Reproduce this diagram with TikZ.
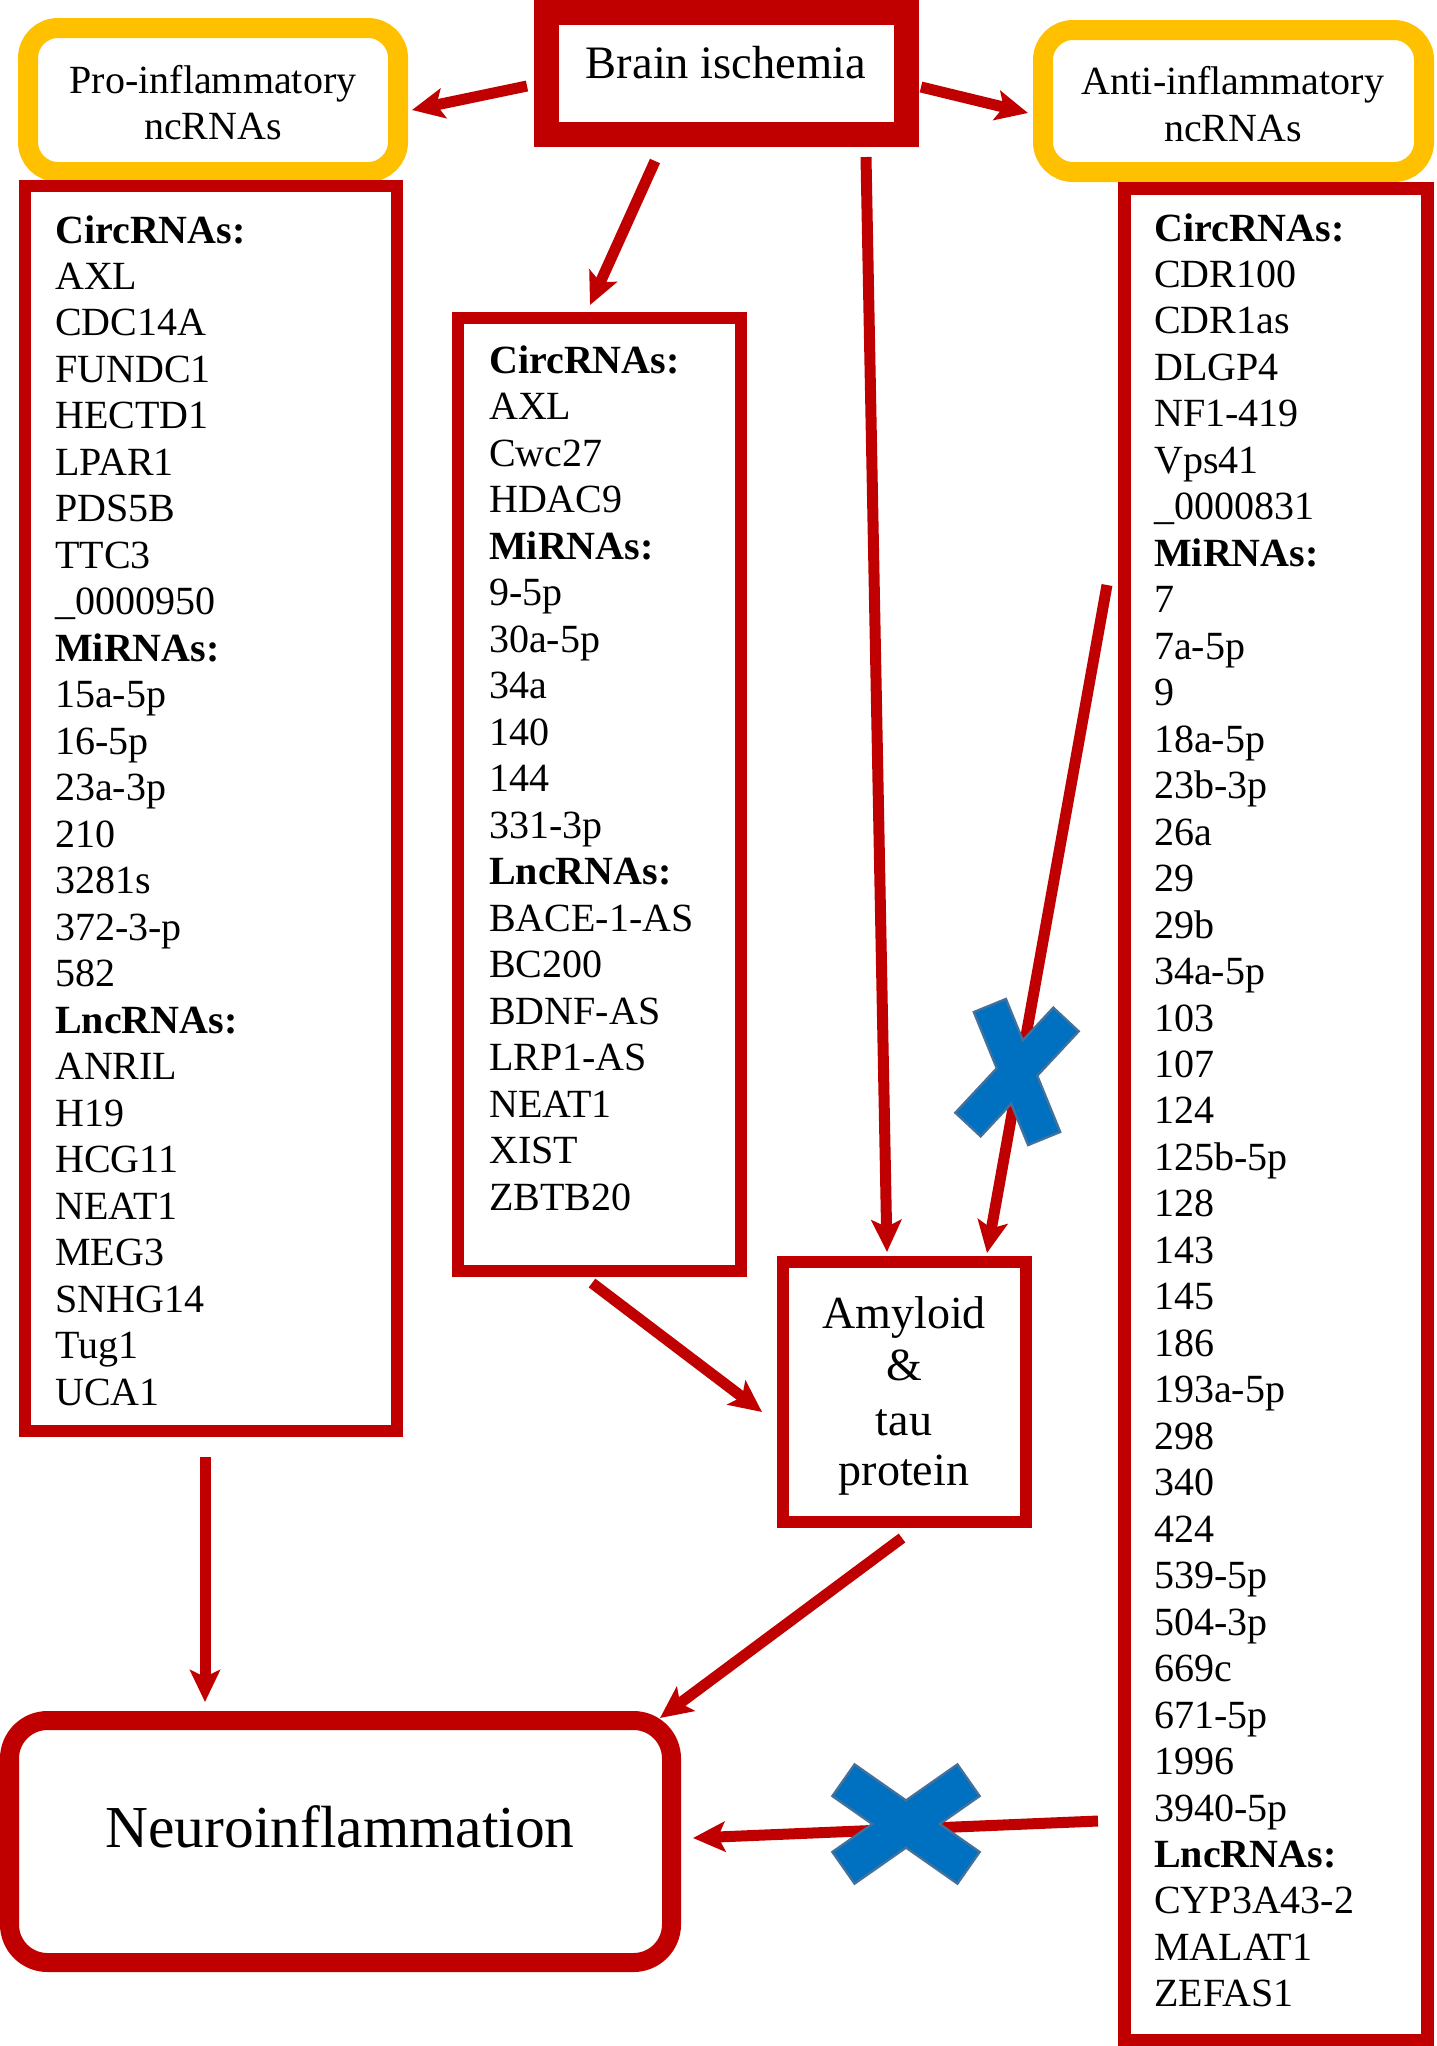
\documentclass[tikz,border=0pt]{standalone}
\usepackage{fontspec}
\setmainfont{Liberation Serif}
\usetikzlibrary{arrows.meta,calc}
\definecolor{dred}{HTML}{C00000}
\definecolor{gold}{HTML}{FFC000}
\definecolor{xblue}{HTML}{0070C0}
\definecolor{xedge}{HTML}{41719C}
\newcommand{\bluecross}[6]{%
  \begin{scope}[shift={(#1,#2)}]
    \draw[xstroke, rotate=#3] (-#5,-#6) rectangle (#5,#6);
    \draw[xstroke, rotate=#4] (-#5,-#6) rectangle (#5,#6);
    \fill[xfill, rotate=#3] (-#5,-#6) rectangle (#5,#6);
    \fill[xfill, rotate=#4] (-#5,-#6) rectangle (#5,#6);
  \end{scope}}
\begin{document}
\begin{tikzpicture}[x=1pt,y=-1pt,
  framebox/.style={draw=dred, inner sep=0pt, outer sep=0pt},
  listbox/.style={framebox, line width=12pt},
  goldbox/.style={draw=gold, line width=20pt, rounded corners=30pt, inner sep=0pt, outer sep=0pt},
  arr/.style={draw=dred, line width=11pt, -{Stealth[length=32pt,width=30pt,inset=7pt]}},
  item/.style={inner sep=0pt, anchor=base west, font=\fontsize{40}{46.5}\selectfont},
  ctext/.style={inner sep=0pt, anchor=base, font=\fontsize{40}{46.5}\selectfont},
  xstroke/.style={draw=xedge, fill=xblue, line width=5pt, line join=miter},
  xfill/.style={fill=xblue}]
\useasboundingbox (0,0) rectangle (1437,2046);
\fill[white] (0,0) rectangle (1437,2046);

% frames
\node[framebox, line width=25pt, minimum width=360pt, minimum height=122pt] (brain) at (726.5,73.5) {};
\node[goldbox, minimum width=370pt, minimum height=144pt] (pro) at (213,100) {};
\node[goldbox, minimum width=381pt, minimum height=142pt] (anti) at (1233.5,101) {};
\node[listbox, minimum width=372pt, minimum height=1245pt] (plbox) at (211,808.5) {};
\node[listbox, minimum width=283pt, minimum height=953pt] (mlbox) at (599.5,794.5) {};
\node[listbox, line width=13pt, minimum width=303pt, minimum height=1852pt] (rlbox) at (1275.5,1114) {};
\node[listbox, minimum width=243pt, minimum height=260pt] (amy) at (904.5,1392) {};
\node[framebox, line width=19pt, rounded corners=38pt, minimum width=662pt, minimum height=242pt] (neuro) at (340.5,1841.5) {};

% titles
\node[ctext, font=\fontsize{46.5}{50}\selectfont] (brainT) at (726,78) {Brain ischemia};
\node[ctext] (proT1) at (213,93) {Pro-inflammatory};
\node[ctext] (proT2) at (213,139) {ncRNAs};
\node[ctext] (antiT1) at (1233,94) {Anti-inflammatory};
\node[ctext] (antiT2) at (1233,141) {ncRNAs};
\node[ctext, font=\fontsize{46}{50}\selectfont] (amyT1) at (904,1328) {Amyloid};
\node[ctext, font=\fontsize{46}{50}\selectfont] (amyT2) at (904,1380) {\&};
\node[ctext, font=\fontsize{46}{50}\selectfont] (amyT3) at (904,1435) {tau};
\node[ctext, font=\fontsize{46}{50}\selectfont] (amyT4) at (904,1485) {protein};
\node[ctext, font=\fontsize{59.5}{64}\selectfont] (neuroT) at (340,1847) {Neuroinflammation};

% lists
\foreach \t [count=\i from 0] in {\textbf{CircRNAs:},AXL,CDC14A,FUNDC1,HECTD1,LPAR1,PDS5B,TTC3,\_0000950,\textbf{MiRNAs:},15a-5p,16-5p,23a-3p,210,3281s,372-3-p,582,\textbf{LncRNAs:},ANRIL,H19,HCG11,NEAT1,MEG3,SNHG14,Tug1,UCA1}
  \node[item] (pl\i) at (55,243+46.48*\i) {\t};
\foreach \t [count=\i from 0] in {\textbf{CircRNAs:},AXL,Cwc27,HDAC9,\textbf{MiRNAs:},9-5p,30a-5p,34a,140,144,331-3p,\textbf{LncRNAs:},BACE-1-AS,BC200,BDNF-AS,LRP1-AS,NEAT1,XIST,ZBTB20}
  \node[item] (ml\i) at (489,373+46.5*\i) {\t};
\foreach \t [count=\i from 0] in {\textbf{CircRNAs:},CDR100,CDR1as,DLGP4,NF1-419,Vps41,\_0000831,\textbf{MiRNAs:},7,7a-5p,9,18a-5p,23b-3p,26a,29,29b,34a-5p,103,107,124,125b-5p,128,143,145,186,193a-5p,298,340,424,539-5p,504-3p,669c,671-5p,1996,3940-5p,\textbf{LncRNAs:},CYP3A43-2,MALAT1,ZEFAS1}
  \node[item] (rl\i) at (1154,241+46.47*\i) {\t};

% connectors
\draw[arr] ($(brain.west)+(-19.5,12.5)$) -- ($(pro.east)+(14,10)$);
\draw[arr] ($(brain.east)+(14.5,13.5)$) -- ($(anti.west)+(-15,12)$);
\draw[arr] ($(brain.south)+(-71.5,26.5)$) -- ($(mlbox.north)+(-9.5,-13)$);
\draw[arr] ($(brain.south)+(139.5,22.5)$) -- ($(amy.north)+(-17.5,-10)$);
\draw[arr] ($(rlbox.west)+(-17,-529)$) -- ($(amy.north)+(82.5,-9)$);
\draw[arr] ($(mlbox.south)+(-7.5,12)$) -- ($(amy.west)+(-21,20)$);
\draw[arr] ($(amy.south)+(-2.5,16)$) -- ($(neuro.north east)+(-11.5,-2.5)$);
\draw[arr] ($(plbox.south)+(-6,26)$) -- ($(neuro.north)+(-135.5,-18.5)$);
\draw[arr] ($(rlbox.west)+(-26,707)$) -- ($(neuro.east)+(21.5,-3.5)$);

% blocking crosses
\bluecross{1017}{1072}{-67.8}{47}{70.5}{16}
\bluecross{906}{1824}{-35}{35}{75}{18}
\end{tikzpicture}
\end{document}
